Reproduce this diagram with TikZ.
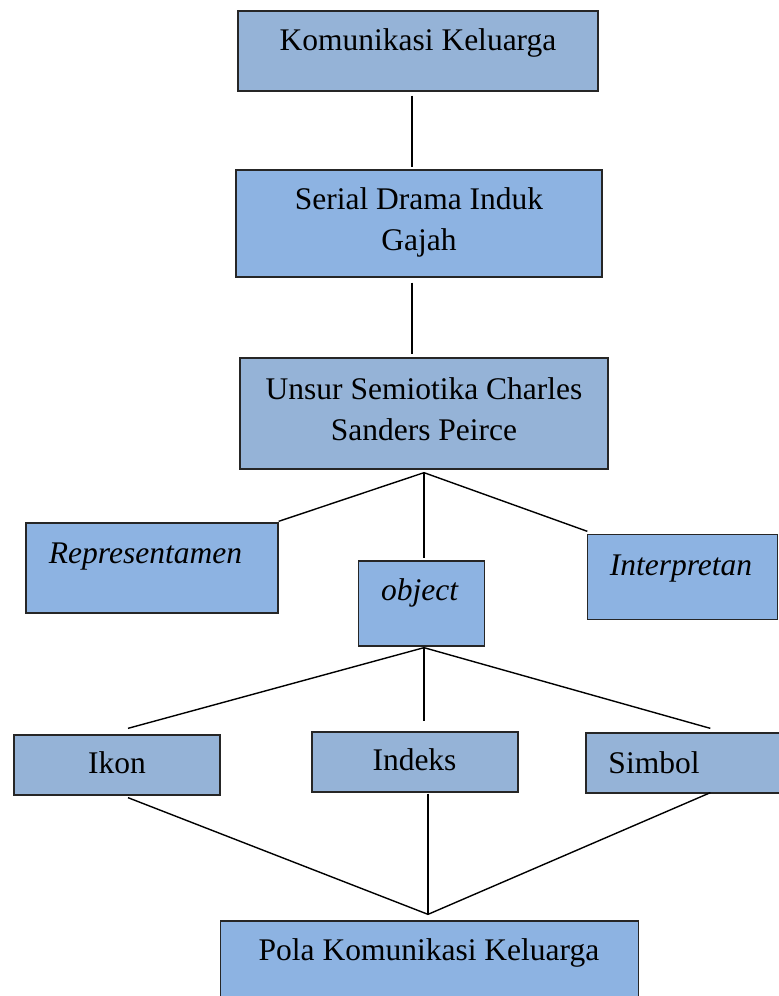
\documentclass[tikz,border=0pt]{standalone}
\usepackage{fontspec}
\setmainfont{Liberation Serif}
\usetikzlibrary{calc}
\definecolor{boxA}{HTML}{95B3D7}
\definecolor{boxB}{HTML}{8DB3E2}
\begin{document}
\begin{tikzpicture}[x=1pt,y=-1pt,
  box/.style={draw=black!85, line width=1.3pt, inner sep=0pt, rectangle},
  boxa/.style={box, fill=boxA},
  boxb/.style={box, fill=boxB},
  txt/.style={anchor=base, inner sep=0pt, font=\fontsize{31.5}{41}\selectfont, align=center},
  itxt/.style={txt, font=\fontsize{31.5}{41}\selectfont\itshape},
  con/.style={line width=1.4pt, black}]
\clip (0,0) rectangle (779,996);
\fill[white] (0,0) rectangle (779,996);
% boxes
\node[boxa, minimum width=360pt, minimum height=80pt] (k1) at (418,51) {};
\node[boxb, minimum width=366pt, minimum height=107pt] (k2) at (419,223.5) {};
\node[boxa, minimum width=368pt, minimum height=111pt] (k3) at (424,413.5) {};
\node[boxb, minimum width=252pt, minimum height=90pt] (rep) at (152,568) {};
\node[boxb, minimum width=126pt, minimum height=85pt] (obj) at (421.5,603.5) {};
\node[boxb, minimum width=190pt, minimum height=85pt] (int) at (682.5,577) {};
\node[boxa, minimum width=206pt, minimum height=60pt] (ikon) at (117,765) {};
\node[boxa, minimum width=206pt, minimum height=60pt] (ind) at (415,762) {};
\node[boxa, minimum width=200pt, minimum height=60pt] (sim) at (686,763) {};
\node[boxb, minimum width=418pt, minimum height=84pt] (pola) at (429.5,963) {};
% texts
\node[txt] (t1) at (418,50) {Komunikasi Keluarga};
\node[txt] (t2) at (419,250) {Serial Drama Induk\\Gajah};
\node[txt] (t3) at (424,440) {Unsur Semiotika Charles\\Sanders Peirce};
\node[itxt] (t4) at (145.5,563) {Representamen};
\node[itxt] (t5) at (419.5,600) {object};
\node[itxt] (t6) at (681,575) {Interpretan};
\node[txt] (t7) at (117,773) {Ikon};
\node[txt] (t8) at (414.5,770) {Indeks};
\node[txt] (t9) at (654,773) {Simbol};
\node[txt] (t10) at (429,960) {Pola Komunikasi Keluarga};
% hubs
\coordinate (h3) at ($(k3.south)+(0,3)$);
\coordinate (ho) at ($(obj.south)+(2.5,1)$);
\coordinate (hp) at ($(pola.north)+(-1.5,-6)$);
% connectors
\draw[con] ($(k1.south)+(-6,4)$) -- ($(k2.north)+(-7,-2)$);
\draw[con] ($(k2.south)+(-7,5)$) -- ($(k3.north)+(-12,-3)$);
\draw[con] (h3) -- ($(rep.north east)+(0,-1)$);
\draw[con] (h3) -- ($(obj.north)+(2.5,-2)$);
\draw[con] (h3) -- ($(int.north west)+(0.5,-2.5)$);
\draw[con] (ho) -- ($(ikon.north)+(11,-6)$);
\draw[con] (ho) -- ($(ind.north)+(9,-10)$);
\draw[con] (ho) -- ($(sim.north west)+(125,-4)$);
\draw[con] ($(ikon.south)+(11,2)$) -- (hp);
\draw[con] ($(ind.south)+(13,1)$) -- (hp);
\draw[con] ($(sim.south west)+(125,-1)$) -- (hp);
\end{tikzpicture}
\end{document}
